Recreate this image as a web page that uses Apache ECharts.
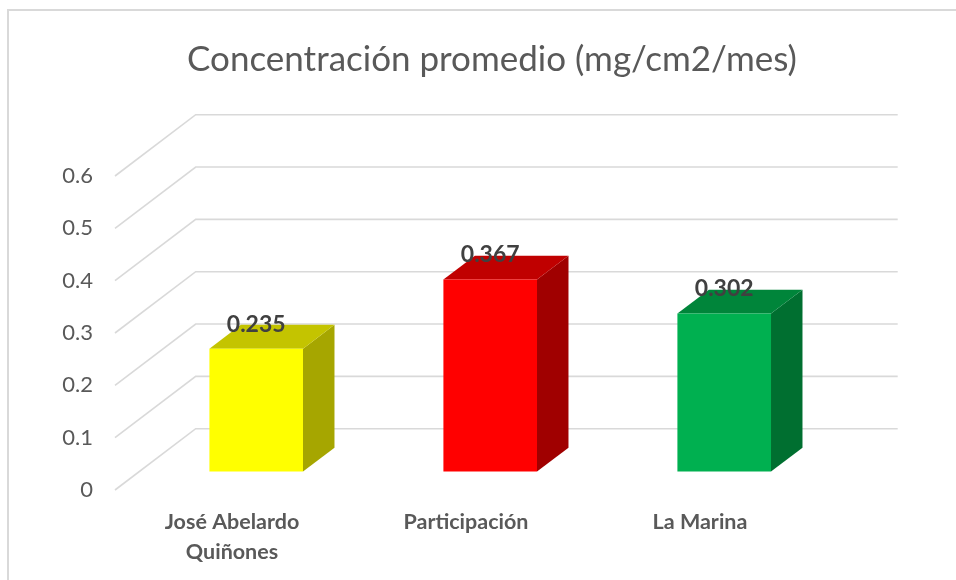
<!DOCTYPE html>
<html><head><meta charset="utf-8">
<script src="https://cdn.jsdelivr.net/npm/echarts@6/dist/echarts.min.js"></script>
<style>html,body{margin:0;padding:0;background:#fff}#c{width:956px;height:580px}</style>
</head><body><div id="c"></div>
<script>
// ---- data ----
const categories = ['José Abelardo\nQuiñones', 'Participación', 'La Marina'];
const values = [0.235, 0.367, 0.302];
const tickValues = [0, 0.1, 0.2, 0.3, 0.4, 0.5, 0.6];
const frontColors = ['#FFFF00', '#FF0000', '#00B050'];
const topColors = ['#C4C400', '#C00000', '#00853A'];
const sideColors = ['#A6A600', '#A00000', '#006F30'];

// ---- 3D projection style constants ----
const DX = 80.7, DY = -61.3;   // depth vector (front plane -> back wall)
const F0 = 0.30, F1 = 0.69;     // bar depth span as fraction of depth
const FONT = 'Lato, "Open Sans", sans-serif';

const chart = echarts.init(document.getElementById('c'), null, {renderer: 'canvas'});
chart.setOption({
  backgroundColor: '#fff',
  animation: false,
  title: {
    text: 'Concentración promedio (mg/cm2/mes)',
    left: 487, textAlign: 'center', top: 37,
    textStyle: {fontFamily: FONT, fontSize: 35, fontWeight: 'normal', color: '#595959'}
  },
  graphic: [{
    type: 'rect', silent: true, z: -10,
    shape: {x: 8, y: 10, width: 980, height: 620},
    style: {fill: null, stroke: '#D9D9D9', lineWidth: 2}
  }],
  grid: {left: 115, right: 139, top: 176, bottom: 90, containLabel: false},
  xAxis: {
    type: 'category', data: categories,
    axisLine: {show: false}, axisTick: {show: false}, splitLine: {show: false},
    axisLabel: {fontFamily: FONT, fontSize: 21.5, fontWeight: 'bold', color: '#595959', lineHeight: 30, margin: 17, interval: 0}
  },
  yAxis: {
    type: 'value', min: 0, max: 0.6, interval: 0.1,
    axisLine: {show: false}, axisTick: {show: false}, splitLine: {show: false},
    axisLabel: {fontFamily: FONT, fontSize: 22, color: '#595959', margin: 22}
  },
  series: [{
    type: 'custom', clip: false, silent: true, z: 1,
    data: tickValues.map(v => [0, v]),
    renderItem: function (params, api) {
      const cs = params.coordSys;
      const y = api.coord([0, api.value(1)])[1];
      const x0 = cs.x, x1 = cs.x + cs.width;
      return {
        type: 'polyline',
        shape: {points: [[x0, y], [x0 + DX, y + DY], [x1 + DX, y + DY]]},
        style: {stroke: '#D9D9D9', lineWidth: 1.6, fill: null}
      };
    }
  }, {
    type: 'custom', clip: false, silent: true, z: 2,
    data: values.map((v, i) => [i, v]),
    renderItem: function (params, api) {
      const i = api.value(0), v = api.value(1), k = params.dataIndex;
      const base = api.coord([i, 0]), top = api.coord([i, v]);
      const band = api.size([1, 0])[0];
      const w = band * 0.4;
      const ox = F0 * DX, oy = F0 * DY;
      const xl = base[0] - w / 2 + ox, xr = base[0] + w / 2 + ox;
      const yb = base[1] + oy, yt = top[1] + oy;
      const dx = (F1 - F0) * DX, dy = (F1 - F0) * DY;
      return {
        type: 'group',
        children: [
          {type: 'polygon', shape: {points: [[xr, yt], [xr + dx, yt + dy], [xr + dx, yb + dy], [xr, yb]]},
           style: {fill: sideColors[k]}},
          {type: 'polygon', shape: {points: [[xl, yt], [xr, yt], [xr + dx, yt + dy], [xl + dx, yt + dy]]},
           style: {fill: topColors[k]}},
          {type: 'rect', shape: {x: xl, y: yt, width: xr - xl, height: yb - yt},
           style: {fill: frontColors[k]}},
          {type: 'text', z2: 10, style: {
            text: v.toFixed(3), x: (xl + xr) / 2, y: yt - 24.5,
            align: 'center', verticalAlign: 'middle',
            font: 'bold 23px ' + FONT, fill: '#404040'}}
        ]
      };
    }
  }]
});
</script></body></html>
